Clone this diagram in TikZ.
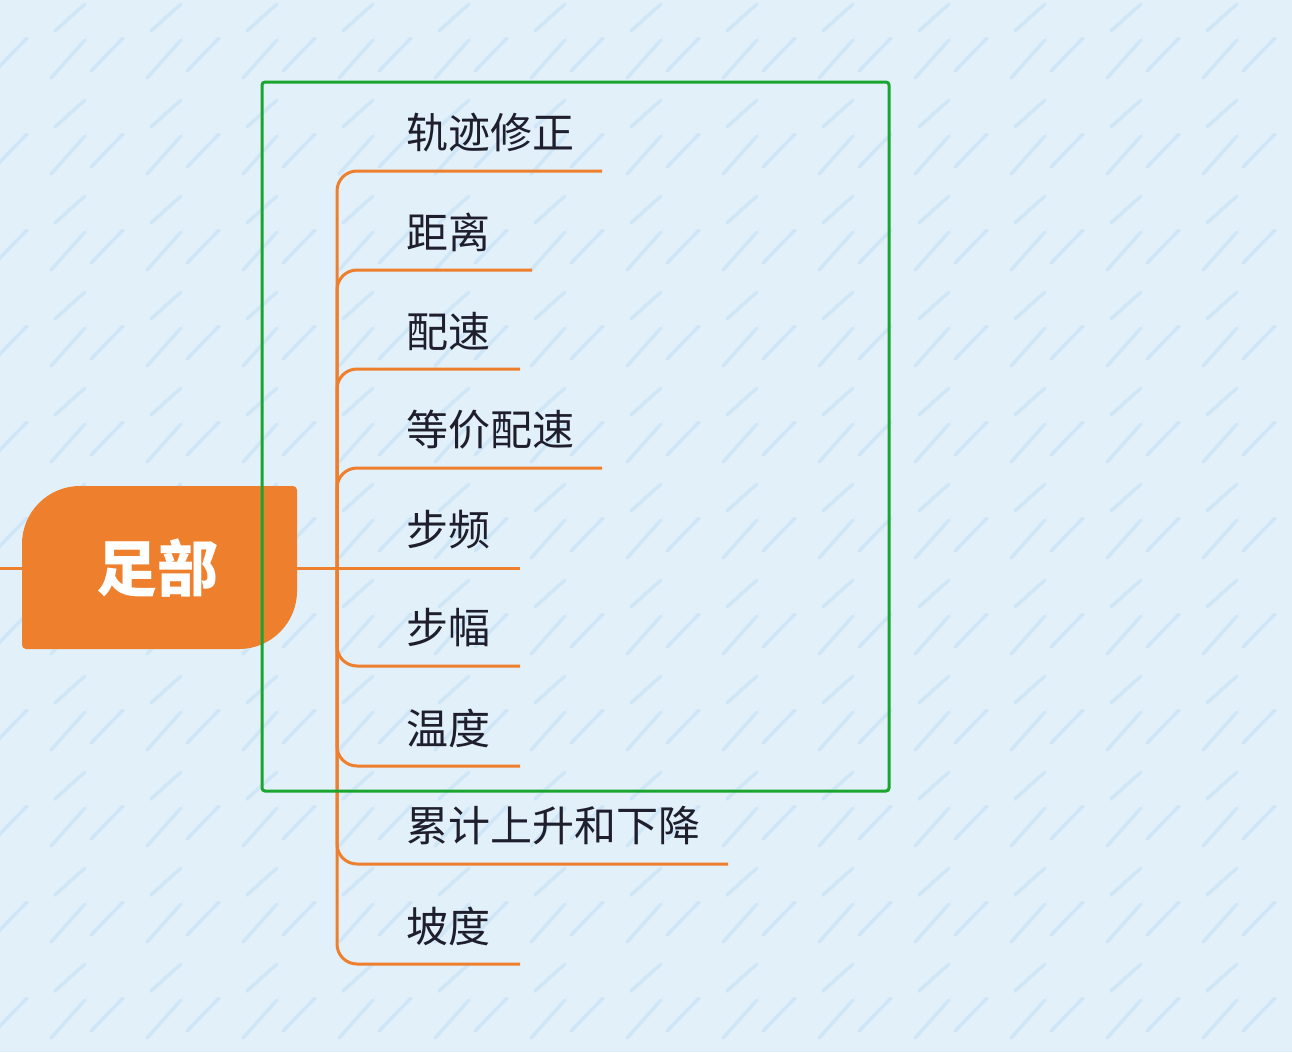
\documentclass[tikz,border=0pt]{standalone}
\usepackage{fontspec}
\newfontfamily\cjk{Noto Sans CJK SC}
\definecolor{bgc}{RGB}{226,240,250}
\definecolor{dashc}{RGB}{207,230,247}
\definecolor{orng}{RGB}{237,127,45}
\definecolor{grn}{RGB}{26,165,46}
\definecolor{txt}{RGB}{30,30,45}
\tikzset{
  bgdash/.style={draw=dashc,line width=3.5pt,line cap=round},
  branch/.style={draw=orng,line width=3pt,rounded corners=20pt},
  label/.style={anchor=west,inner sep=0pt,text=txt,font=\cjk\fontsize{42}{42}\selectfont},
}
\begin{document}
\begin{tikzpicture}[x=1pt,y=-1pt]
\useasboundingbox (0,0) rectangle (1292,1052);
\fill[bgc] (0,0) rectangle (1292,1052);
% background pattern
\foreach \i in {0,...,14}{
  \foreach \j in {0,...,11}{
    \pgfmathsetmacro{\xo}{-47+96*\i}
    \pgfmathsetmacro{\yo}{96*\j}
    \draw[bgdash] (\xo+6,\yo+31) -- (\xo+36,\yo+4);
    \draw[bgdash] (\xo+2,\yo+78) -- (\xo+36,\yo+40);
    \draw[bgdash] (\xo+42,\yo+71) -- (\xo+74,\yo+38);
  }
}
% root
\node[minimum width=275pt,minimum height=163pt,inner sep=0pt] (root) at (159.5,568) {};
\fill[orng] (22,645) -- (22,544) arc[start angle=180,end angle=270,radius=58] -- (293,486)
  arc[start angle=270,end angle=360,radius=4] -- (297,591)
  arc[start angle=0,end angle=90,radius=58] -- (26,649)
  arc[start angle=90,end angle=180,radius=4] -- cycle;
\node[text=white,font=\cjk\bfseries\fontsize{61}{61}\selectfont,inner sep=0pt] (roottxt) at (157,568) {足部};
\coordinate (lstub) at (0,568);
\coordinate (jn) at (337,568);
\draw[draw=orng,line width=3pt] (lstub) -- (root.west);
\draw[draw=orng,line width=3pt] (root.east) -- (jn);
% branches
\foreach \n/\y/\xe/\t in {1/171/602/轨迹修正,2/270/532/距离,3/369/520/配速,4/468/602/等价配速,6/666/520/步幅,7/766/520/温度,8/864/728/累计上升和下降,9/964/520/坡度}{
  \coordinate (e\n) at (\xe,\y);
  \coordinate (c\n) at (337,\y);
  \node[label] (t\n) at (406,\y-38) {\t};
  \draw[branch] (jn) -- (c\n) -- (e\n);
}
\coordinate (e5) at (520,568);
\node[label] (t5) at (406,530) {步频};
\draw[draw=orng,line width=3pt] (jn) -- (e5);
% green frame
\node[draw=grn,line width=3pt,rounded corners=3pt,minimum width=627pt,minimum height=709pt,inner sep=0pt] (frame) at (575.5,436.5) {};
\end{tikzpicture}
\end{document}
